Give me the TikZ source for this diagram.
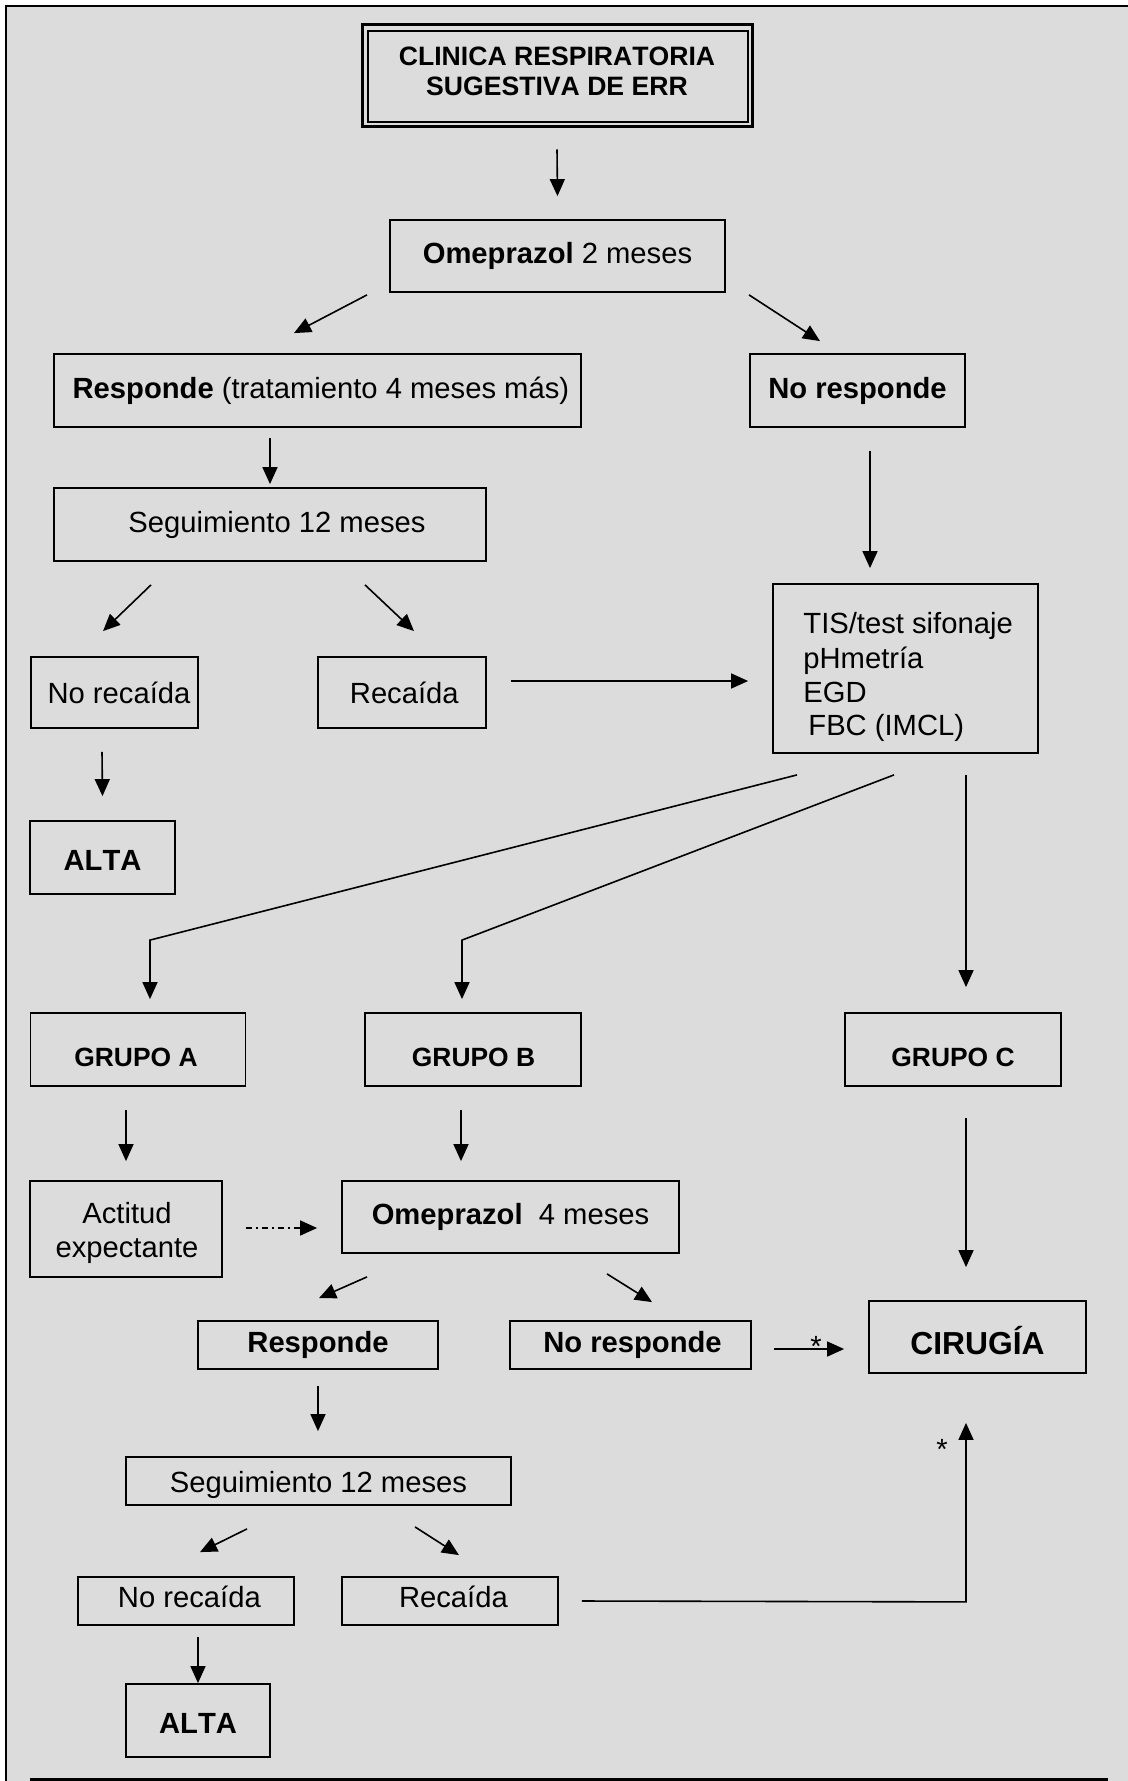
\documentclass[tikz,border=0pt]{standalone}
\usepackage{fontspec}
\setmainfont{Liberation Sans}[Kerning=Off]
\usetikzlibrary{arrows.meta,calc}
\definecolor{bgc}{RGB}{220,220,220}
\newcommand\shiftdn[2]{\raisebox{-#1}[\height][\depth]{#2}}
\begin{document}
\begin{tikzpicture}[x=0.5pt,y=-0.5pt,
  box/.style={draw, line width=0.9pt, inner sep=0pt, align=center,
              font=\fontsize{14.6}{17}\selectfont},
  txt/.style={inner sep=0pt, font=\fontsize{14.6}{17}\selectfont},
  grtxt/.style={inner sep=0pt, font=\fontsize{13.2}{15}\selectfont\bfseries},
  arr/.style={line width=0.8pt, -{Triangle[length=8.5pt,width=7.5pt]}},
  dashdot/.style={dash pattern=on 3pt off 2pt on 1pt off 2pt}]
\useasboundingbox (0,0) rectangle (1128,1781);
% frame
\fill[white] (0,0) rectangle (1128,1781);
\fill[bgc] (6,6) rectangle (1128,1781);
\draw[line width=1.1pt] (1128,6) -- (6,6) -- (6,1781);
\draw[line width=1.5pt] (30,1779.5) -- (1108,1779.5);

% nodes
\node[box, line width=1.5pt, minimum width=195pt, minimum height=51pt] (title) at (557,76) {};
\node[box, minimum width=190pt, minimum height=45.5pt] (titlein) at (558,76.5) {};
\node[inner sep=0pt, align=center, font=\fontsize{13.3}{15}\selectfont\bfseries] (titletxt) at (557,71)
  {CLINICA RESPIRATORIA\\SUGESTIVA DE ERR};

\node[box, minimum width=167.5pt, minimum height=36pt] (omep1) at (557.5,256) {{\bfseries Omeprazol} 2 meses};
\node[box, minimum width=263.5pt, minimum height=36.5pt] (resp1) at (317.5,390.5) {\hspace{3.4pt}{\bfseries Responde} (tratamiento 4 meses más)};
\node[box, minimum width=107.5pt, minimum height=36.5pt] (noresp1) at (857.5,390.5) {\bfseries No responde};
\node[box, minimum width=216pt, minimum height=36.5pt] (seg1) at (270,524.5) {\hspace{7pt}Seguimiento 12 meses};

\node[box, minimum width=132.5pt, minimum height=84.5pt] (tis) at (905.5,668.5) {};
\node[txt, anchor=base west] (tis1) at (803,633) {TIS/test sifonaje};
\node[txt, anchor=base west] (tis2) at (803,668) {pHmetría};
\node[txt, anchor=base west] (tis3) at (803,702) {EGD};
\node[txt, anchor=base west] (tis4) at (808,735) {FBC (IMCL)};

\node[box, minimum width=83.5pt, minimum height=35.5pt] (noRec1) at (114.5,692.5) {\hspace{4.5pt}No recaída};
\node[box, minimum width=84pt, minimum height=35.5pt] (rec1) at (402,692.5) {\hspace{2.3pt}Recaída};
\node[box, minimum width=72.5pt, minimum height=36.5pt] (alta1) at (102.5,857.5) {\shiftdn{1.5pt}{\bfseries ALTA}};

\node[box, minimum width=107.5pt, minimum height=36.5pt] (grA) at (138,1049.5) {};
\node[box, minimum width=108pt, minimum height=36.5pt] (grB) at (473,1049.5) {};
\node[box, minimum width=108pt, minimum height=36.5pt] (grC) at (953,1049.5) {};
\node[grtxt] (grAt) at (136,1057) {GRUPO A};
\node[grtxt] (grBt) at (473.5,1057) {GRUPO B};
\node[grtxt] (grCt) at (953,1057) {GRUPO C};

\node[box, minimum width=96pt, minimum height=48pt] (actitud) at (126,1229) {};
\node[txt, align=center] (actitudt) at (127,1232.5) {Actitud\\expectante};
\node[box, minimum width=168.5pt, minimum height=36pt] (omep4) at (510.5,1217) {{\bfseries Omeprazol}\ \ 4 meses};
\node[box, minimum width=120pt, minimum height=24pt] (resp2) at (318,1345) {\bfseries Responde};
\node[box, minimum width=120.5pt, minimum height=24pt] (noresp2) at (630.5,1345) {\hspace{2pt}\bfseries No responde};
\node[box, minimum width=108.5pt, minimum height=36pt, font=\fontsize{15.9}{18}\selectfont\bfseries] (cirugia) at (977.5,1337) {\shiftdn{1.7pt}{CIRUGÍA}};
\node[box, minimum width=192.5pt, minimum height=24pt] (seg2) at (318.5,1481) {\shiftdn{2.2pt}{Seguimiento 12 meses}};
\node[box, minimum width=108pt, minimum height=24pt] (noRec2) at (186,1601) {\hspace{3.4pt}\shiftdn{-2.2pt}{No recaída}};
\node[box, minimum width=108pt, minimum height=24pt] (rec2) at (450,1601) {\hspace{3.4pt}\shiftdn{-2.2pt}{Recaída}};
\node[box, minimum width=72pt, minimum height=36.5pt] (alta2) at (198,1720.5) {\shiftdn{1.5pt}{\bfseries ALTA}};

\node[txt, anchor=base] (star1) at (816,1356) {*};
\node[txt, anchor=base] (star2) at (942,1459) {*};

% connectors
\draw[arr] ($(title.south)+(0,21)$) -- ($(omep1.north)+(0,-23)$);
\draw[arr] ($(omep1.south)+(-190.5,2)$) -- ($(resp1.north)+(-23.5,-20)$);
\draw[arr] ($(omep1.south)+(191.5,2)$) -- ($(noresp1.north)+(-37.5,-12)$);
\draw[arr] ($(resp1.south)+(-47.5,10)$) -- ($(seg1.north)+(0,-3)$);
\draw[arr] ($(noresp1.south)+(12.5,23)$) -- ($(tis.north)+(-35.5,-15)$);
\draw[arr] ($(seg1.south)+(-119,23)$) -- ($(noRec1.north)+(-11.5,-25)$);
\draw[arr] ($(seg1.south)+(95,23)$) -- ($(rec1.north)+(12,-25)$);
\draw[arr] ($(rec1.east)+(24,-11.5)$) -- ($(tis.west)+(-24,12.5)$);
\draw[arr] ($(noRec1.south)+(-12.5,23)$) -- ($(alta1.north)+(0,-24)$);
\draw[arr] ($(tis.south)+(-108.5,21)$) -- ($(grA.north)+(12,-72)$) -- ($(grA.north)+(12,-13)$);
\draw[arr] ($(tis.south)+(-11.5,21)$) -- ($(grB.north)+(-11,-72)$) -- ($(grB.north)+(-11,-13)$);
\draw[arr] ($(tis.south)+(60.5,21)$) -- ($(grC.north)+(13,-25)$);
\draw[arr] ($(grA.south)+(-12,23)$) -- ($(actitud.north)+(0,-19)$);
\draw[arr] ($(grB.south)+(-12,23)$) -- ($(omep4.north)+(-49.5,-19)$);
\draw[arr] ($(grC.south)+(13,31)$) -- ($(cirugia.north)+(-11.5,-33)$);
\draw[arr, dashdot] ($(actitud.east)+(23,-1)$) -- ($(omep4.west)+(-24,11)$);
\draw[arr] ($(omep4.south)+(-143.5,23)$) -- ($(resp2.north)+(1,-22)$);
\draw[arr] ($(omep4.south)+(96.5,20)$) -- ($(noresp2.north)+(21.5,-18)$);
\draw[arr] ($(noresp2.east)+(22,4)$) -- ($(cirugia.west)+(-24,12)$);
\draw[arr] ($(resp2.south)+(0,16)$) -- ($(seg2.north)+(-0.5,-25)$);
\draw[arr] ($(seg2.south)+(-71.5,23)$) -- ($(noRec2.north)+(14,-24)$);
\draw[arr] ($(seg2.south)+(96.5,21)$) -- ($(rec2.north)+(9,-21)$);
\draw[arr] ($(rec2.east)+(23,0)$) -- ($(cirugia.south)+(-11.5,228)$) -- ($(cirugia.south)+(-11.5,49)$);
\draw[arr] ($(noRec2.south)+(12,11)$) -- (alta2.north);
\end{tikzpicture}
\end{document}
